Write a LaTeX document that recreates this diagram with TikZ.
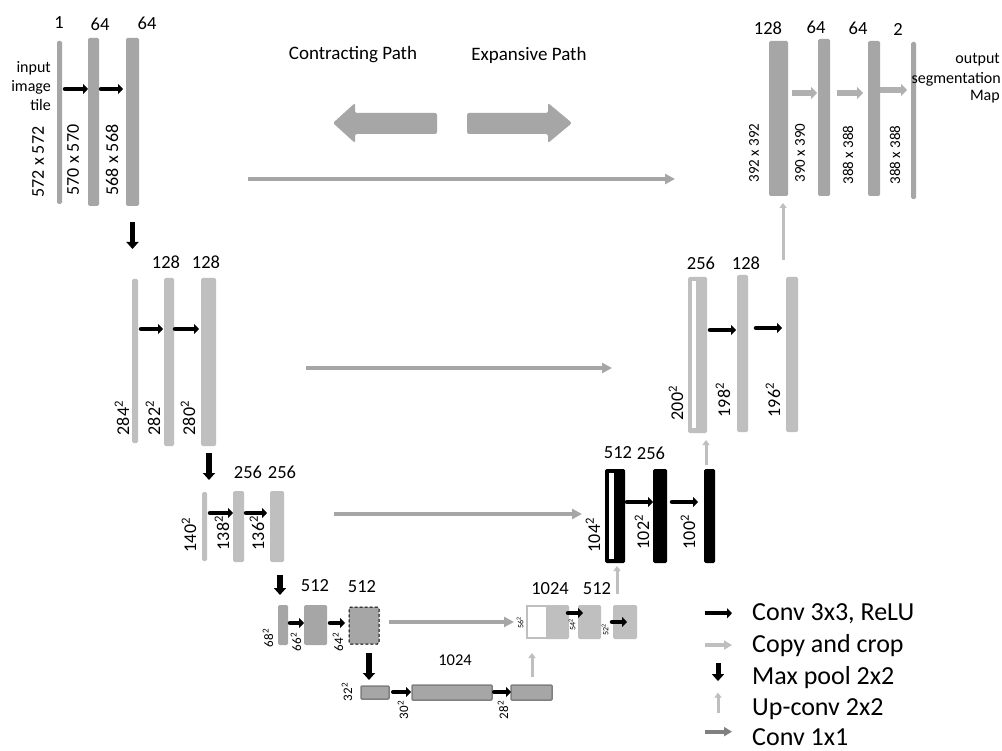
\documentclass[tikz,border=0pt]{standalone}
\usepackage{fontspec}
\setmainfont{Carlito}
\usetikzlibrary{arrows.meta,calc}
\definecolor{gA}{HTML}{A6A6A6}
\definecolor{gB}{HTML}{BFBFBF}
\definecolor{gC}{HTML}{808080}
\definecolor{gD}{HTML}{B0B0B0}
\newcommand\fs[1]{\fontsize{#1}{#1}\selectfont}
\newcommand\barnode[6]{\node[barbase,#6,minimum width={(#4)-(#2)},minimum height={(#5)-(#3)}] (#1) at ({((#2)+(#4))/2},{((#3)+(#5))/2}) {};}
\tikzset{
  barbase/.style={rectangle,inner sep=0pt,outer sep=0pt,rounded corners=1.5pt},
  darkbar/.style={fill=gA},
  lightbar/.style={fill=gB},
  blackbar/.style={fill=black},
  inner/.style={fill=white,rounded corners=0pt},
  botbar/.style={fill=gA,draw=gC,line width=1.5pt,rounded corners=1pt},
  dashbar/.style={fill=gA,draw=black,dashed,line width=1pt,dash pattern=on 3pt off 2pt},
  whitebar/.style={fill=white,draw=gB,line width=1.2pt,rounded corners=0pt},
  conv/.style={black,line width=4.5pt,line cap=round,-{Triangle[length=5pt,width=10pt]}},
  pool/.style={black,line width=5.5pt,-{Triangle[length=7pt,width=12pt]}},
  copy/.style={gA,line width=4pt,-{Triangle[length=10pt,width=10pt]}},
  up/.style={gB,line width=3pt,-{Triangle[length=5pt,width=7pt]}},
  gconv/.style={gD,line width=6pt,-{Triangle[length=6pt,width=12pt]}},
  lbl/.style={inner sep=0pt,font=\fs{18.5}},
  rot/.style={inner sep=0pt,rotate=90,font=\fs{18}},
  rots/.style={inner sep=0pt,rotate=90,font=\fs{15}},
  rott/.style={inner sep=0pt,rotate=90,font=\fs{13}},
  rotu/.style={inner sep=0pt,rotate=90,font=\fs{8}},
  side/.style={inner sep=0pt,font=\fs{16}},
  head/.style={inner sep=0pt,font=\fs{19}},
  leg/.style={inner sep=0pt,font=\fs{26},anchor=base west},
}
\newcommand\sq[1]{#1\textsuperscript{2}}
\begin{document}
\begin{tikzpicture}[x=1pt,y=-1pt]
\useasboundingbox[fill=white] (0,0) rectangle (1002,751);

% ---------- titles and big arrows ----------
\node[head] (tcon) at (353,55) {Contracting Path};
\node[head] (texp) at (529,55) {Expansive Path};
\fill[gA,rounded corners=2pt] (333,123) -- (355,103) -- (355,113) -- (437,113) -- (437,134) -- (355,134) -- (355,143) -- cycle;
\fill[gA,rounded corners=2pt] (572,123) -- (548,103) -- (548,113) -- (467,113) -- (467,134) -- (548,134) -- (548,143) -- cycle;

% ---------- level 1 contracting ----------
\barnode{c1a}{57}{41}{62}{204}{darkbar}
\barnode{c1b}{88}{38}{99}{206}{darkbar}
\barnode{c1c}{126}{38}{139}{206}{darkbar}
\node[lbl] (n1a) at (59,23) {1};
\node[lbl] (n1b) at (100,24) {64};
\node[lbl] (n1c) at (147,23) {64};
\node[side,anchor=east] (tin1) at (51,68) {input};
\node[side,anchor=east] (tin2) at (51,87) {image};
\node[side,anchor=east] (tin3) at (51,105) {tile};
\node[rot] (r1a) at (38,162) {572 x 572};
\node[rot] (r1b) at (73,160) {570 x 570};
\node[rot] (r1c) at (112,160) {568 x 568};
\draw[conv] ($(c1a.east|-0,89)+(3,0)$) -- (c1b.west|-0,89);
\draw[conv] ($(c1b.east|-0,89)+(2,0)$) -- ($(c1c.west|-0,89)+(-3,0)$);
\draw[pool] ($(c1c.south)+(0,16)$) -- ++(0,27);

% ---------- level 2 contracting ----------
\barnode{c2a}{132}{279}{138}{443}{lightbar}
\barnode{c2b}{164}{278}{174}{446}{lightbar}
\barnode{c2c}{201}{278}{216}{446}{lightbar}
\node[lbl] (n2b) at (166,262) {128};
\node[lbl] (n2c) at (206,262) {128};
\node[rot] (r2a) at (122,418) {\sq{284}};
\node[rot] (r2b) at (153,418) {\sq{282}};
\node[rot] (r2c) at (188,418) {\sq{280}};
\draw[conv] ($(c2a.east|-0,329)+(3,0)$) -- ($(c2b.west|-0,329)+(-1,0)$);
\draw[conv] ($(c2b.east|-0,329)+(1,0)$) -- ($(c2c.west|-0,329)+(-2,0)$);
\draw[pool] ($(c2c.south)+(0.5,7)$) -- ++(0,27);

% ---------- level 3 contracting ----------
\barnode{c3a}{202}{492}{207}{561}{lightbar}
\barnode{c3b}{233}{491}{244}{562}{lightbar}
\barnode{c3c}{270}{491}{284}{562}{lightbar}
\node[lbl] (n3b) at (248,472) {256};
\node[lbl] (n3c) at (282,472) {256};
\node[rot] (r3a) at (189,535) {\sq{140}};
\node[rot] (r3b) at (222,533) {\sq{138}};
\node[rot] (r3c) at (257,533) {\sq{136}};
\draw[conv] ($(c3a.east|-0,513)+(3,0)$) -- (c3b.west|-0,513);
\draw[conv] ($(c3b.east|-0,513)+(2,0)$) -- ($(c3c.west|-0,513)+(-3,0)$);
\draw[pool] ($(c3c.south)+(3,13)$) -- ++(0,20);

% ---------- level 4 contracting ----------
\barnode{c4a}{278}{605}{288}{645}{darkbar}
\barnode{c4b}{304}{605}{327}{645}{darkbar}
\barnode{c4c}{349}{607}{379}{644}{dashbar}
\node[lbl] (n4b) at (315,586) {512};
\node[lbl] (n4c) at (362,587) {512};
\node[rott] (r4a) at (268,638) {\sq{68}};
\node[rott] (r4b) at (296,642) {\sq{66}};
\node[rott] (r4c) at (338,642) {\sq{64}};
\draw[conv] ($(c4a.east|-0,623)+(2,0)$) -- (c4b.west|-0,623);
\draw[conv] ($(c4b.east|-0,623)+(3,0)$) -- ($(c4c.west|-0,623)+(-4,0)$);
\draw[pool] ($(c4c.south)+(5,9)$) -- ++(0,27);

% ---------- bottom ----------
\barnode{b1}{361}{686}{389}{699}{botbar}
\barnode{b2}{412}{685}{492}{700}{botbar}
\barnode{b3}{511}{685}{552}{700}{botbar}
\node[lbl,font=\fs{16.5}] (n5) at (455,660) {1024};
\node[rott] (r5a) at (347,692) {\sq{32}};
\node[rott] (r5b) at (403,710) {\sq{30}};
\node[rott] (r5c) at (503,710) {\sq{28}};
\draw[conv,line width=4pt] ($(b1.east|-0,692)+(4,0)$) -- ($(b2.west|-0,692)+(-1,0)$);
\draw[conv,line width=4pt] ($(b2.east|-0,692)+(2,0)$) -- (b3.west|-0,692);
\draw[up] ($(b3.north)+(0.5,-8)$) -- ++(0,-24);

% ---------- level 4 expansive ----------
\barnode{e4g}{545}{605}{569}{639}{lightbar}
\barnode{e4w}{527}{606}{547}{638}{whitebar}
\barnode{e4b}{578}{605}{601}{639}{lightbar}
\barnode{e4c}{613}{605}{637}{639}{lightbar}
\node[lbl] (n6a) at (550,589) {1024};
\node[lbl] (n6b) at (597,589) {512};
\draw[copy] ($(c4c.east|-0,622)+(10,0)$) -- ($(e4w.west|-0,622)+(-13,0)$);
\node[rotu] (r6a) at (520,623) {\sq{56}};
\node[rotu] (r6b) at (572,625) {\sq{54}};
\node[rotu] (r6c) at (605,630) {\sq{52}};
\draw[conv] ($(e4g.east|-0,613)+(-1,0)$) -- ($(e4b.west|-0,613)+(5,0)$);
\draw[conv] ($(e4c.west|-0,622)+(-1,0)$) -- ++(15,0);
\draw[up] ($(e4c.north)+(-8,-11)$) -- ++(0,-28);

% ---------- level 3 expansive ----------
\barnode{e3a}{605}{469}{625}{563}{blackbar}
\barnode{e3ai}{609}{473}{614}{559}{inner}
\barnode{e3b}{653}{469}{667}{563}{blackbar}
\barnode{e3c}{704}{469}{715}{563}{blackbar}
\node[lbl] (n7a) at (618,453) {512};
\node[lbl] (n7b) at (651,453) {256};
\node[rot] (r7a) at (593,535) {\sq{104}};
\node[rot] (r7b) at (642,532) {\sq{102}};
\node[rot] (r7c) at (688,532) {\sq{100}};
\draw[conv] ($(e3a.east|-0,502)+(2,0)$) -- (e3b.west|-0,502);
\draw[conv] ($(e3b.east|-0,502)+(5,0)$) -- ($(e3c.west|-0,502)+(-6,0)$);
\draw[up] ($(e3c.north)+(-3.5,-4)$) -- ++(0,-25);
\draw[copy] ($(c3c.east|-0,514)+(50,0)$) -- ($(e3a.west|-0,514)+(-23,0)$);

% ---------- level 2 expansive ----------
\barnode{e2a}{688}{277}{707}{433}{lightbar}
\barnode{e2ai}{692}{281}{696}{428}{inner}
\barnode{e2b}{737}{275}{748}{432}{lightbar}
\barnode{e2c}{786}{277}{798}{432}{lightbar}
\node[lbl] (n8a) at (701,263) {256};
\node[lbl] (n8b) at (746,263) {128};
\node[rot] (r8a) at (676,403) {\sq{200}};
\node[rot] (r8b) at (723,400) {\sq{198}};
\node[rot] (r8c) at (773,400) {\sq{196}};
\draw[conv] ($(e2a.east|-0,330)+(3,0)$) -- ($(e2b.west|-0,330)+(-1,0)$);
\draw[conv] ($(e2b.east|-0,328)+(8,0)$) -- ($(e2c.west|-0,328)+(-4,0)$);
\draw[up] ($(e2c.north)+(-9,-17)$) -- ++(0,-57);
\draw[copy] ($(c2c.east|-0,368)+(90,0)$) -- ($(e2a.west|-0,368)+(-76,0)$);

% ---------- level 1 expansive ----------
\barnode{e1a}{769}{41}{788}{196}{darkbar}
\barnode{e1b}{818}{39}{830}{196}{darkbar}
\barnode{e1c}{868}{41}{880}{196}{darkbar}
\barnode{e1d}{911}{42}{916}{199}{darkbar}
\node[lbl] (n9a) at (768,28) {128};
\node[lbl] (n9b) at (816,27) {64};
\node[lbl] (n9c) at (858,28) {64};
\node[lbl] (n9d) at (898,30) {2};
\node[rots] (r9a) at (754,153) {392 x 392};
\node[rots] (r9b) at (800,153) {390 x 390};
\node[rots] (r9c) at (848,155) {388 x 388};
\node[rots] (r9d) at (895,155) {388 x 388};
\node[side,anchor=east] (to1) at (1000,60) {output};
\node[side,anchor=east] (to2) at (1001,79) {segmentation};
\node[side,anchor=east] (to3) at (1000,97) {Map};
\draw[gconv] ($(e1a.east|-0,93)+(4,0)$) -- ($(e1b.west|-0,93)+(-1,0)$);
\draw[gconv] ($(e1b.east|-0,93)+(7,0)$) -- ($(e1c.west|-0,93)+(-5,0)$);
\draw[gconv] (e1c.east|-0,90) -- ($(e1d.west|-0,90)+(-4,0)$);
\draw[copy] ($(c1c.east|-0,179)+(109,0)$) -- ($(e1a.west|-0,179)+(-94,0)$);

% ---------- legend ----------
\node[leg] (L1) at (752,620) {Conv 3x3, ReLU};
\node[leg] (L2) at (752,652) {Copy and crop};
\node[leg] (L3) at (752,684) {Max pool 2x2};
\node[leg] (L4) at (752,715) {Up-conv 2x2};
\node[leg] (L5) at (752,745) {Conv 1x1};
\draw[conv,line width=3.5pt,line cap=butt] ($(L1.west)+(-47,0)$) -- ++(27,0);
\draw[gB,line width=4pt,-{Triangle[length=8pt,width=9pt]}] ($(L2.west)+(-47,0)$) -- ++(27,0);
\draw[pool,line width=5pt] ($(L3.west)+(-34,-14)$) -- ++(0,18);
\draw[up] ($(L4.west)+(-34,4)$) -- ++(0,-20);
\draw[gC,line width=4pt,-{Triangle[length=8pt,width=9pt]}] ($(L5.west)+(-47,-5)$) -- ++(27,0);
\end{tikzpicture}
\end{document}
